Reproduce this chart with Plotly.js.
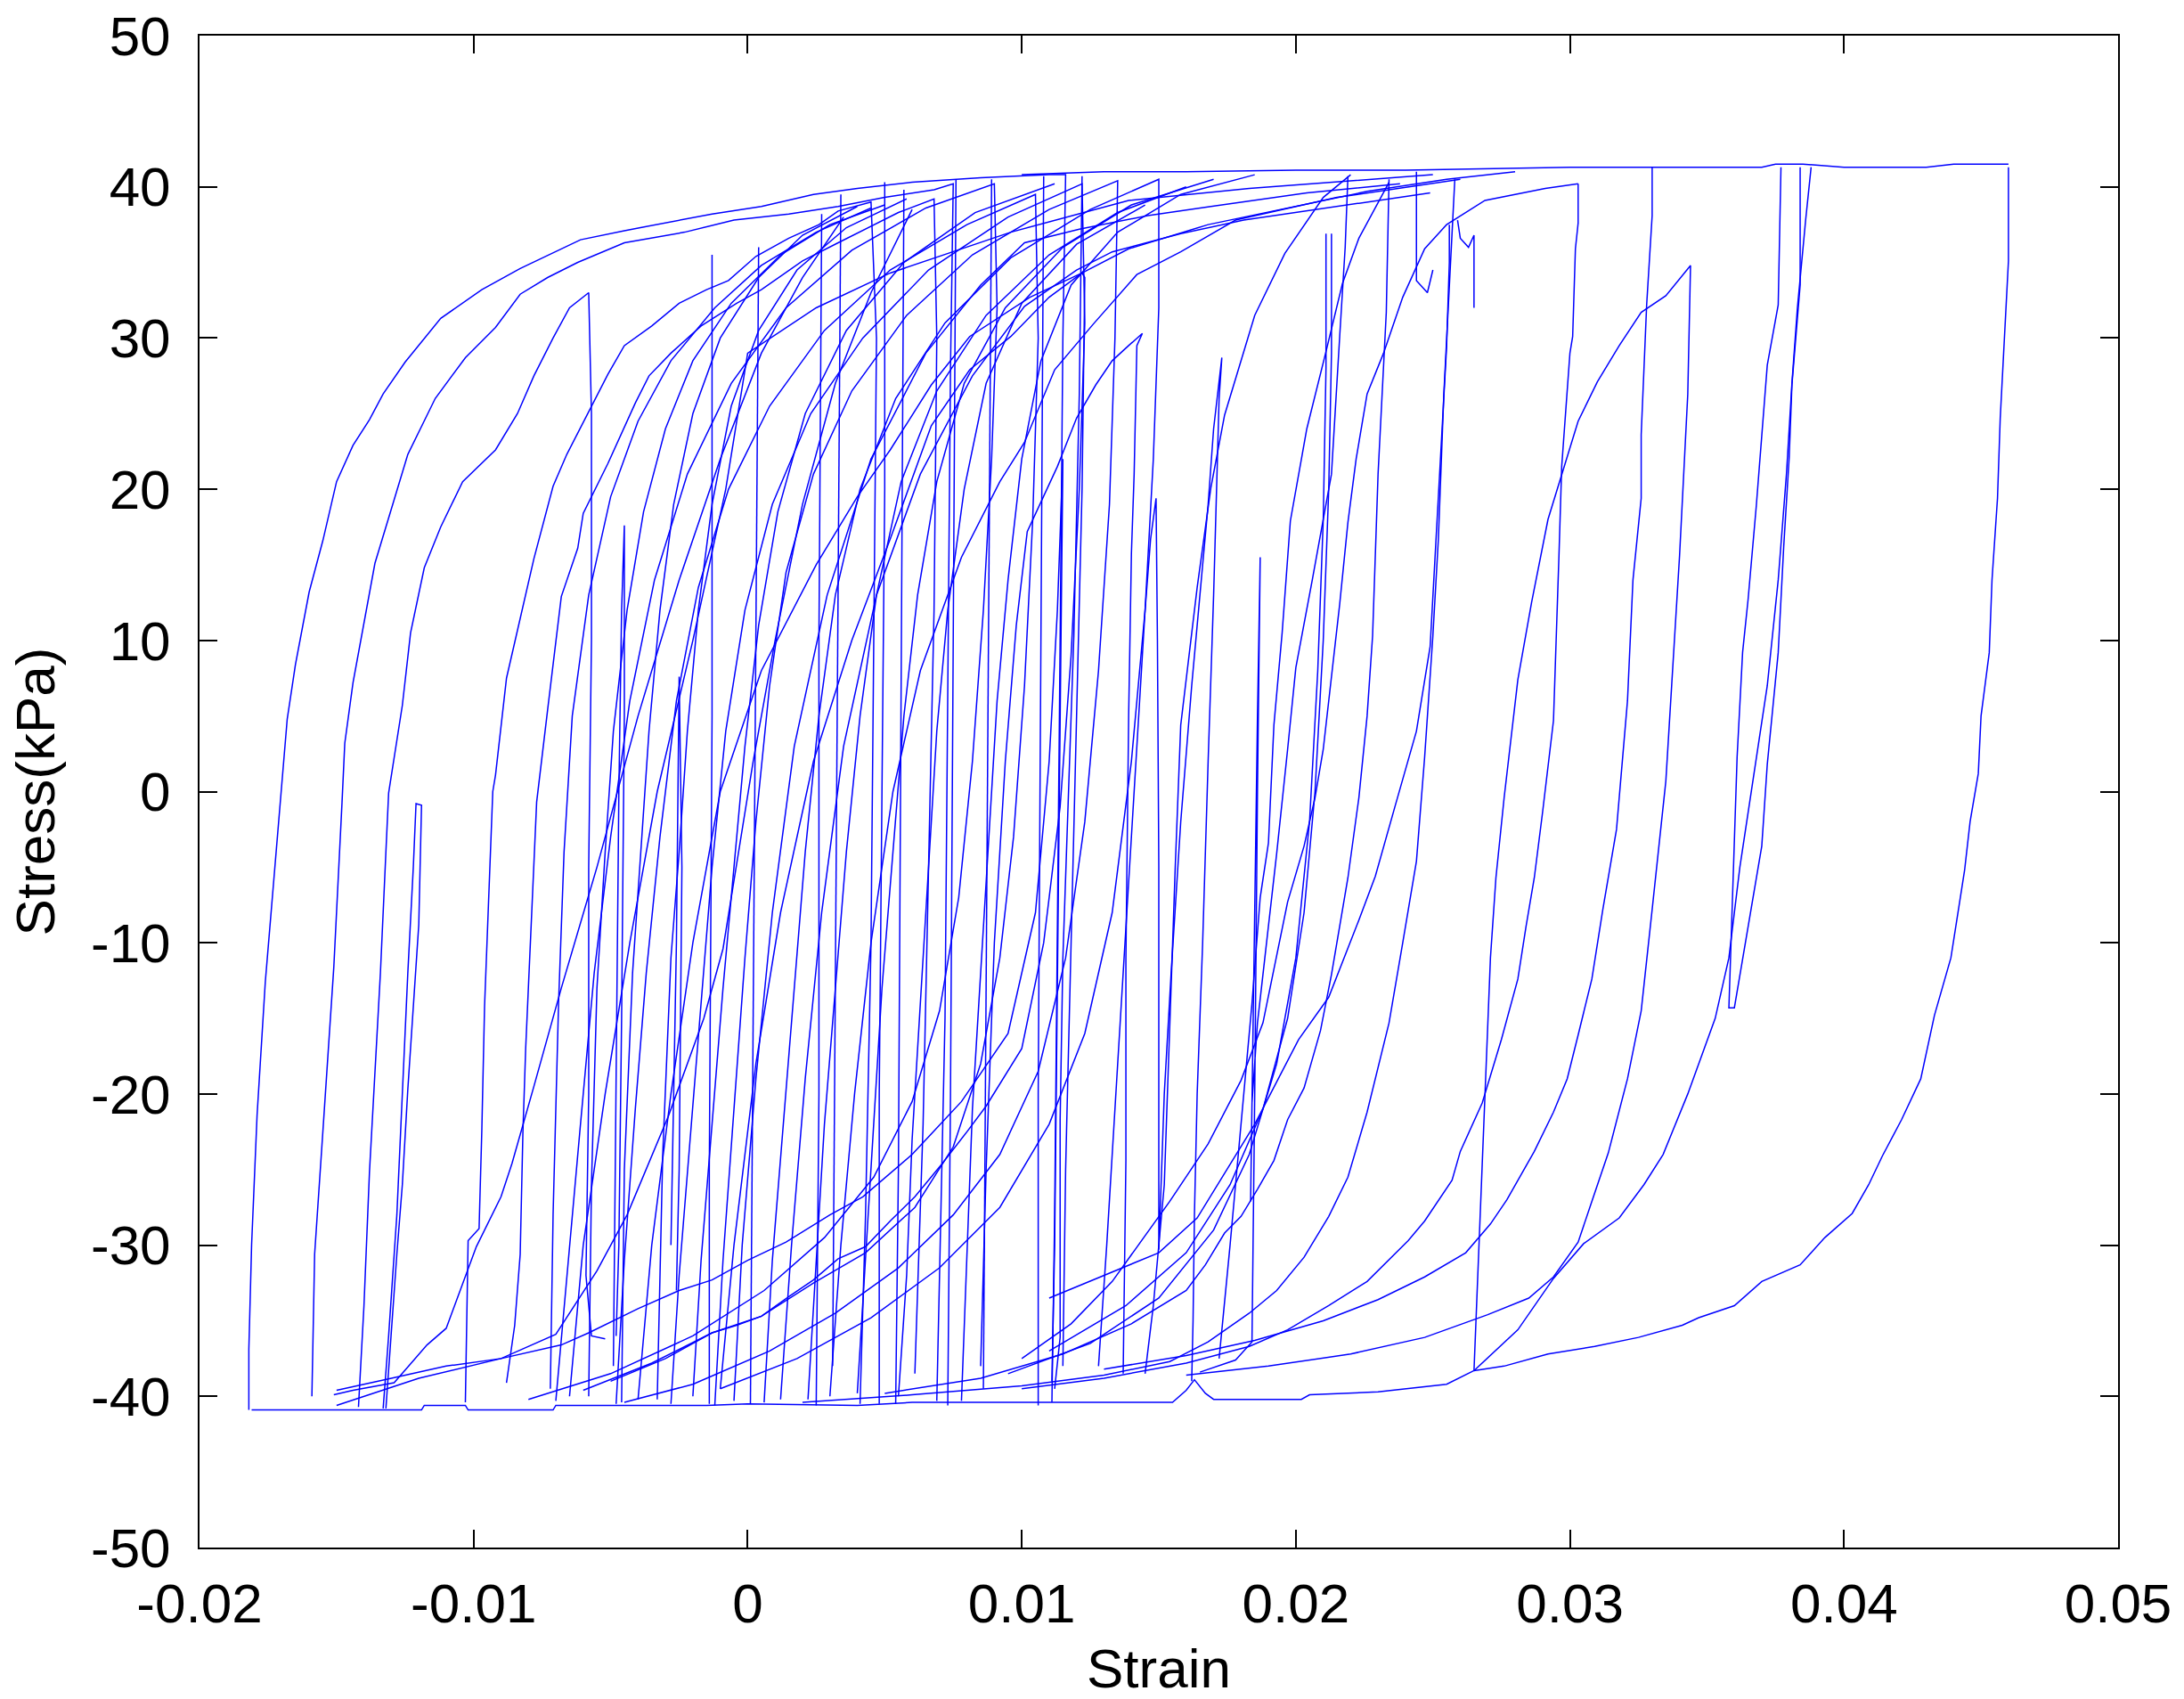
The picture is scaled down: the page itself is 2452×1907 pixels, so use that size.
<!DOCTYPE html>
<html>
<head>
<meta charset="utf-8">
<script src="https://cdn.plot.ly/plotly-3.0.1.min.js"></script>
<style>html,body{margin:0;padding:0;background:#fff;}</style>
</head>
<body>
<div id="chart" style="width:2452px;height:1907px;"></div>
<script>
// strain / stress pairs, one array per visible branch
var loopLeft1 = [[-0.0182,-40.9],[-0.0182,-36.9],[-0.0181,-30.0],[-0.0179,-21.4],[-0.0176,-12.6],[-0.0172,-4.0],[-0.0168,4.8],[-0.0165,8.4],[-0.0160,13.2],[-0.0155,16.6],[-0.0150,20.5],[-0.0144,22.9],[-0.0138,24.6],[-0.0133,26.3],[-0.0125,28.4],[-0.0112,31.3],[-0.0097,33.2],[-0.0083,34.6],[-0.0069,35.8],[-0.0061,36.5],[-0.0045,37.1],[-0.0013,38.2],[0.0005,38.7],[0.0024,39.5],[0.0040,39.9],[0.0060,40.3],[0.0085,40.6],[0.0110,40.8],[0.0116,40.8],[0.0115,30.0],[0.0114,10.0],[0.0113,-10.0],[0.0112,-28.0],[0.0111,-40.4]];
var loopLeft2 = [[-0.0159,-40.0],[-0.0158,-30.6],[-0.0155,-22.5],[-0.0151,-11.6],[-0.0148,-0.7],[-0.0147,3.2],[-0.0144,7.2],[-0.0136,15.1],[-0.0129,19.3],[-0.0124,22.3],[-0.0114,26.0],[-0.0103,28.7],[-0.0092,30.7],[-0.0083,32.9],[-0.0073,34.0],[-0.0062,35.0],[-0.0045,36.3],[-0.0023,37.0],[-0.0005,37.8],[0.0015,38.2],[0.0033,38.7],[0.0050,39.3],[0.0068,39.8],[0.0075,40.2],[0.0074,28.0],[0.0073,5.0],[0.0072,-15.0],[0.0070,-32.0],[0.0069,-40.3]];
var loopLeft3 = [[-0.0142,-40.7],[-0.0140,-34.0],[-0.0138,-25.2],[-0.0134,-12.0],[-0.0132,-4.0],[-0.0131,-0.1],[-0.0126,5.7],[-0.0123,10.5],[-0.0118,14.8],[-0.0112,17.5],[-0.0104,20.5],[-0.0092,22.6],[-0.0084,25.0],[-0.0078,27.5],[-0.0071,30.0],[-0.0065,32.0],[-0.0058,33.0],[-0.0057,25.0],[-0.0057,10.0],[-0.0058,-5.0],[-0.0058,-20.0],[-0.0059,-32.0],[-0.0057,-36.0],[-0.0052,-36.2]];
var loopLeft4 = [[-0.0133,-40.8],[-0.0131,-36.0],[-0.0128,-28.0],[-0.0126,-20.0],[-0.0124,-12.0],[-0.0122,-5.0],[-0.0121,-0.8],[-0.0119,-0.9],[-0.0120,-8.8],[-0.0124,-19.7],[-0.0126,-26.0],[-0.0128,-30.6],[-0.0132,-40.8]];
var loopLeft5 = [[-0.0103,-40.4],[-0.0102,-29.7],[-0.0098,-28.9],[-0.0097,-22.4],[-0.0096,-14.2],[-0.0094,-5.0],[-0.0093,0.0],[-0.0092,1.1],[-0.0088,7.5],[-0.0078,15.4],[-0.0071,20.2],[-0.0066,22.3],[-0.0058,25.1],[-0.0051,27.6],[-0.0045,29.5],[-0.0035,30.8],[-0.0025,32.3],[-0.0015,33.2],[-0.0007,33.8],[0.0003,35.4],[0.0015,36.6],[0.0026,37.5],[0.0033,38.4],[0.0045,39.0],[0.0047,30.0],[0.0046,10.0],[0.0045,-10.0],[0.0043,-28.0],[0.0041,-40.5]];
var loopLeft6 = [[-0.0088,-39.1],[-0.0085,-35.3],[-0.0083,-30.6],[-0.0082,-22.5],[-0.0081,-17.0],[-0.0079,-8.8],[-0.0077,-0.7],[-0.0073,5.4],[-0.0068,12.9],[-0.0062,16.1],[-0.0060,18.4],[-0.0051,21.7],[-0.0041,25.7],[-0.0036,27.5],[-0.0028,29.0],[-0.0017,30.8],[-0.0004,32.3],[0.0005,33.2],[0.0020,35.1],[0.0033,36.3],[0.0043,37.2],[0.0055,38.3],[0.0068,39.2],[0.0069,30.0],[0.0068,12.0],[0.0066,-5.0],[0.0064,-22.0],[0.0061,-38.5]];
var kneeLow1 = [[0.0060,38.5],[0.0045,33.0],[0.0032,27.0],[0.0020,19.0],[0.0010,10.0],[0.0002,2.0],[-0.0009,-10.4],[-0.0016,-15.0],[-0.0029,-21.5],[-0.0044,-28.0],[-0.0055,-31.7],[-0.0070,-35.9],[-0.0090,-37.5],[-0.0110,-38.0],[-0.0130,-38.8],[-0.0150,-39.6]];
var kneeLow2 = [[0.0035,38.0],[0.0020,34.0],[0.0005,29.0],[-0.0010,22.0],[-0.0025,14.0],[-0.0040,5.0],[-0.0055,-5.0],[-0.0068,-13.0],[-0.0078,-19.5],[-0.0086,-24.6],[-0.0090,-26.8],[-0.0099,-30.1],[-0.0110,-35.5],[-0.0117,-36.6],[-0.0129,-39.1],[-0.0144,-39.6],[-0.0151,-39.9]];
var kneeLow3 = [[-0.0150,-40.6],[-0.0120,-38.8],[-0.0090,-37.5],[-0.0068,-36.6],[-0.0058,-35.8],[-0.0040,-34.2],[-0.0025,-33.0],[-0.0013,-32.3],[0.0000,-31.0],[0.0014,-29.8],[0.0030,-28.0],[0.0042,-26.8],[0.0060,-24.0],[0.0078,-20.5],[0.0095,-16.0],[0.0105,-8.0],[0.0110,2.0],[0.0113,12.0],[0.0115,22.0],[0.0114,5.0],[0.0113,-15.0],[0.0112,-30.0],[0.0111,-39.0]];
var midN1 = [[-0.0072,-39.5],[-0.0071,-28.0],[-0.0069,-14.0],[-0.0067,-4.0],[-0.0064,5.0],[-0.0058,13.0],[-0.0050,19.5],[-0.0040,24.5],[-0.0028,28.5],[-0.0012,32.0],[0.0005,34.8],[0.0025,37.0],[0.0045,38.6]];
var midN2 = [[-0.0058,-40.0],[-0.0057,-26.0],[-0.0055,-13.0],[-0.0052,-4.0],[-0.0049,4.0],[-0.0044,12.0],[-0.0038,18.5],[-0.0030,24.0],[-0.0020,28.5],[-0.0006,32.3],[0.0012,35.5],[0.0030,37.5],[0.0050,38.8]];
var midN3 = [[-0.0046,-40.4],[-0.0045,-25.0],[-0.0042,-12.0],[-0.0039,-4.0],[-0.0036,4.0],[-0.0032,12.0],[-0.0027,19.0],[-0.0020,25.0],[-0.0010,30.0],[0.0004,34.0],[0.0020,36.8],[0.0040,38.7]];
var midN4 = [[-0.0033,-40.2],[-0.0031,-24.0],[-0.0028,-11.0],[-0.0025,-4.0],[-0.0022,4.0],[-0.0018,12.0],[-0.0013,19.0],[-0.0006,25.5],[0.0004,30.5],[0.0018,34.5],[0.0036,37.3],[0.0058,39.2]];
var spikeA = [[-0.0049,-38.0],[-0.0048,-20.0],[-0.0047,0.0],[-0.0046,12.0],[-0.0045,17.6],[-0.0045,5.0],[-0.0046,-15.0],[-0.0047,-30.0],[-0.0048,-36.0]];
var spikeB = [[-0.0028,-30.0],[-0.0026,-10.0],[-0.0025,7.6],[-0.0024,-5.0],[-0.0025,-25.0],[-0.0026,-33.0]];
var coreM1 = [[-0.0070,-40.3],[-0.0066,-32],[-0.0061,-22],[-0.0056,-12],[-0.0050,-3],[-0.0043,6],[-0.0034,14],[-0.0022,21],[-0.0006,27],[0.0014,32],[0.0038,35.8],[0.0065,38.6],[0.0090,40.2],[0.0091,32],[0.0089,22],[0.0086,12],[0.0082,2],[0.0077,-7],[0.0070,-14.5],[0.0060,-20.5],[0.0046,-25.5],[0.0028,-29.5],[0.0006,-33],[-0.0020,-36],[-0.0050,-38.5],[-0.0080,-40.2]];
var coreM2 = [[-0.0048,-40.5],[-0.0045,-31],[-0.0041,-21],[-0.0037,-12],[-0.0032,-3],[-0.0026,6],[-0.0018,13.5],[-0.0007,20],[0.0008,25.5],[0.0028,30.5],[0.0052,34.5],[0.0080,37.5],[0.0105,39.5],[0.0106,30],[0.0104,18],[0.0101,7],[0.0097,-3],[0.0092,-11],[0.0085,-18],[0.0075,-23.5],[0.0061,-27.5],[0.0043,-30.5],[0.0024,-32.5],[0.0005,-34.7],[-0.0013,-35.8],[-0.0035,-37.8],[-0.0060,-39.6]];
var coreM3 = [[-0.0028,-40.5],[-0.0025,-32],[-0.0021,-23],[-0.0017,-14],[-0.0013,-5],[-0.0008,4],[-0.0001,12],[0.0009,19],[0.0023,25],[0.0042,30],[0.0066,34.5],[0.0095,38],[0.0122,40.2],[0.0123,31],[0.0121,20],[0.0118,9],[0.0114,-1],[0.0108,-10],[0.0100,-17],[0.0087,-20.8],[0.0080,-22.5],[0.0071,-24.6],[0.0061,-26.8],[0.0052,-28.4],[0.0043,-30.1],[0.0033,-30.9],[0.0024,-32.3],[0.0015,-33.4],[0.0005,-34.7],[-0.0004,-35.3],[-0.0013,-35.8],[-0.0030,-37.5],[-0.0050,-39.0]];
var coreM4 = [[-0.0012,-40.6],[-0.0009,-31],[-0.0005,-21],[-0.0001,-11],[0.0003,-2],[0.0008,7],[0.0014,14.5],[0.0024,21],[0.0038,26.5],[0.0058,31.5],[0.0082,35.5],[0.0110,38.5],[0.0135,40.4],[0.0134,30],[0.0132,19],[0.0128,8],[0.0123,-2],[0.0116,-11],[0.0106,-18.5],[0.0092,-24],[0.0075,-28],[0.0055,-31.5],[0.0032,-34.5],[0.0008,-37],[-0.0020,-39.2],[-0.0045,-40.4]];
var coreM5 = [[0.0006,-40.4],[0.0009,-31],[0.0013,-22],[0.0017,-13],[0.0021,-4],[0.0026,5],[0.0032,13],[0.0041,20],[0.0054,26],[0.0072,31],[0.0096,35.3],[0.0125,38.5],[0.0150,40.5],[0.0150,32],[0.0148,22],[0.0145,12],[0.0140,2],[0.0133,-8],[0.0123,-16],[0.0110,-22],[0.0092,-27.5],[0.0070,-31.5],[0.0045,-34.8],[0.0018,-37.5],[-0.0010,-39.5]];
var coreM6 = [[0.0022,-40.2],[0.0025,-31],[0.0028,-22],[0.0032,-13],[0.0036,-4],[0.0041,5],[0.0047,13],[0.0056,20.5],[0.0069,26.5],[0.0087,31.5],[0.0110,35.5],[0.0135,38.3],[0.0160,40.0]];
var coreM7 = [[0.0040,-39.8],[0.0043,-31],[0.0046,-22],[0.0049,-13],[0.0053,-4],[0.0057,5],[0.0062,13],[0.0069,20.5],[0.0079,27],[0.0094,32],[0.0115,36],[0.0140,38.8],[0.0170,40.5]];
var coreM8 = [[0.0055,-40.0],[0.0058,-32],[0.0060,-23],[0.0063,-14],[0.0066,-5],[0.0069,4],[0.0073,12],[0.0079,20],[0.0087,27],[0.0100,32.3],[0.0120,36.2],[0.0145,38.8]];
var coreM9 = [[0.0078,-40.3],[0.0080,-31],[0.0082,-21],[0.0085,-12],[0.0088,-3],[0.0091,6],[0.0095,14],[0.0100,22],[0.0107,28.5],[0.0118,33.5],[0.0135,37],[0.0158,39.5],[0.0185,40.8]];
var coreM10 = [[-0.0020,-40.0],[-0.0017,-31],[-0.0013,-22],[-0.0009,-13],[-0.0005,-5],[-0.0001,3],[0.0004,11],[0.0011,18.5],[0.0021,25],[0.0036,30.5],[0.0057,35],[0.0083,38.3],[0.0112,40.2]];
var upperT1 = [[-0.0010,-39.5],[-0.0005,-30],[0.0003,-18],[0.0012,-8],[0.0024,2],[0.0038,10],[0.0052,16.7],[0.0067,24.2],[0.0081,27.9],[0.0096,30.1],[0.0110,32.7],[0.0122,34.3],[0.0123,34.0],[0.0122,20],[0.0120,5],[0.0118,-10],[0.0116,-25],[0.0115,-38]];
var upperT2 = [[-0.0040,-40.2],[-0.0035,-30],[-0.0028,-20],[-0.0020,-10],[-0.0010,0],[0.0005,8],[0.0025,15],[0.0040,19.5],[0.0052,22.6],[0.0067,26.9],[0.0081,30.1],[0.0103,32.7],[0.0122,34.3],[0.0139,35.9],[0.0168,37.5],[0.0197,38.6],[0.0226,39.7],[0.0255,40.5],[0.0280,41.0]];
var upperT3 = [[-0.0065,-40],[-0.0060,-30],[-0.0052,-20],[-0.0043,-10],[-0.0033,0],[-0.0020,10],[-0.0008,20],[0.0000,29],[0.0025,32],[0.0052,34.3],[0.0096,37.0],[0.0139,39.1],[0.0183,39.9],[0.0226,40.5],[0.0250,40.8]];
var flatA = [[0.0030,-40.0],[0.0034,-30],[0.0039,-20],[0.0045,-10],[0.0053,0],[0.0063,8],[0.0078,15.5],[0.0092,20.5],[0.0101,23.1],[0.0112,27.9],[0.0126,30.9],[0.0142,34.2],[0.0158,35.7],[0.0178,37.8],[0.0215,39.3],[0.0260,40.5]];
var flatB = [[0.0012,-40.2],[0.0016,-30],[0.0021,-19],[0.0027,-8],[0.0035,3],[0.0047,13],[0.0063,21],[0.0082,27.5],[0.0101,32.1],[0.0120,34.5],[0.0133,35.7],[0.0158,36.9],[0.0181,37.8],[0.0215,38.7],[0.0249,39.6]];
var flatC = [[-0.0005,-40.3],[-0.0002,-30],[0.0003,-19],[0.0009,-8],[0.0017,3],[0.0029,13],[0.0045,22],[0.0065,29],[0.0085,33.5],[0.0101,36.3],[0.0121,37.2],[0.0146,38.1],[0.0169,38.7],[0.0204,39.6],[0.0238,40.2]];
var drop1 = [[0.0050,40.3],[0.0050,20],[0.0049,0],[0.0048,-20],[0.0048,-40.5]];
var drop2 = [[0.0027,38.2],[0.0026,10],[0.0026,-20],[0.0025,-40.6]];
var drop3 = [[0.0076,40.5],[0.0075,10],[0.0074,-20],[0.0073,-40.6]];
var drop4 = [[0.0108,40.7],[0.0107,10],[0.0106,-20],[0.0106,-40.6]];
var drop5 = [[0.0004,36.0],[0.0003,10],[0.0002,-15],[0.0001,-40.5]];
var drop6 = [[0.0034,39.5],[0.0033,15],[0.0032,-10],[0.0031,-38]];
var drop7 = [[0.0057,39.8],[0.0056,10],[0.0055,-25],[0.0054,-40.5]];
var drop8 = [[0.0089,40.5],[0.0088,15],[0.0087,-15],[0.0086,-39.5]];
var drop9 = [[-0.0013,35.5],[-0.0013,5],[-0.0014,-25],[-0.0014,-40.5]];
var drop10 = [[0.0122,40.7],[0.0121,26.3],[0.0119,10.3],[0.0117,-0.4],[0.0115,-11.0],[0.0114,-21.7],[0.0114,-36.1],[0.0112,-39.5]];
var spike30 = [[0.0085,-38],[0.0087,-25],[0.0090,-10],[0.0094,2],[0.0098,11],[0.0102,17.2],[0.0113,21.5],[0.0120,24.7],[0.0127,26.9],[0.0133,28.5],[0.0139,29.5],[0.0144,30.3],[0.0142,29.5],[0.0141,21.0],[0.0140,15.7],[0.0139,5.0],[0.0138,-11.0],[0.0138,-24.4],[0.0137,-38.5]];
var spike19 = [[0.0128,-38.0],[0.0131,-30.0],[0.0136,-15.0],[0.0141,0.0],[0.0145,12.0],[0.0147,16.7],[0.0149,19.4],[0.01495,10.0],[0.0150,-5.0],[0.0150,-20.0],[0.0150,-30.3],[0.0152,-20.0],[0.01545,-12.0],[0.0158,-2.0],[0.0162,7.0],[0.0165,13.0],[0.0168,19.0],[0.0170,24.0],[0.0173,28.7],[0.0172,26.0],[0.0170,13.0],[0.0168,2.0],[0.0166,-10.0],[0.0164,-20.0],[0.0163,-28.0],[0.01625,-35.0],[0.0162,-39.0]];
var spike15 = [[0.0219,40.7],[0.0218,36.0],[0.0216,30.1],[0.0213,21.0],[0.0206,14.0],[0.0200,8.2],[0.0197,2.8],[0.0193,-4.1],[0.0189,-10.5],[0.0186,-15.3],[0.0184,-20.6],[0.01835,-27.1],[0.0185,-5.0],[0.0186,5.0],[0.0187,15.5],[0.0186,0.0],[0.0185,-20.0],[0.0184,-36.4],[0.0178,-37.6],[0.0165,-38.4]];
var riseV1 = [[0.0145,-38.5],[0.0148,-34],[0.0152,-26],[0.0154,-15],[0.0156,-5],[0.0158,4.4],[0.0164,13.5],[0.0169,20.1],[0.0174,24.9],[0.0185,31.5],[0.0196,35.6],[0.0210,39.3],[0.0220,40.8]];
var riseV2 = [[0.0172,-37.5],[0.0176,-30],[0.0180,-22],[0.0184,-14],[0.0187,-7],[0.0190,-3.4],[0.0192,4.4],[0.0195,10.5],[0.0198,17.9],[0.0204,24.0],[0.0211,29.1],[0.0217,33.6],[0.0223,36.6],[0.0234,40.3]];
var fallW1 = [[0.0211,36.9],[0.0211,28],[0.0210,18],[0.0208,8],[0.0205,-2],[0.0200,-11],[0.0193,-18],[0.0183,-24],[0.0170,-29],[0.0150,-33.5],[0.0125,-36.5],[0.0095,-38.5]];
var fallW2 = [[0.0213,36.9],[0.0213,29],[0.0212,20],[0.0210,10],[0.0207,0],[0.0203,-8],[0.0197,-15],[0.0188,-21],[0.0176,-26],[0.0160,-30.5],[0.0138,-34],[0.0110,-37]];
var riseU1 = [[0.0100,-37.5],[0.0118,-35.2],[0.0133,-32.4],[0.0154,-27.1],[0.0168,-23.3],[0.0180,-19.1],[0.0188,-15.3],[0.0191,-12.7],[0.0197,-7.3],[0.0203,-3.6],[0.0207,-0.4],[0.0210,2.8],[0.0213,7.6],[0.0216,12.4],[0.0219,17.8],[0.0222,22.0],[0.0226,26.3],[0.0232,29.0],[0.0239,32.7],[0.0247,35.9],[0.0255,37.5],[0.0269,39.1],[0.0291,39.9],[0.0303,40.2]];
var riseU3 = [[0.0110,-33.5],[0.0130,-32.0],[0.0150,-30.5],[0.0164,-28.2],[0.0185,-22.0],[0.0201,-16.4],[0.0212,-13.6],[0.0223,-8.5],[0.0229,-5.6],[0.0236,-1.1],[0.0244,4.0],[0.0249,9.6],[0.0252,19.2],[0.0255,29.4],[0.0256,35.0],[0.0256,37.5]];
var fallD1 = [[0.0258,40.5],[0.02565,34.9],[0.0254,26.3],[0.0252,16.7],[0.0250,10.3],[0.0247,2.3],[0.0244,-4.6],[0.0239,-10.0],[0.0234,-15.3],[0.0226,-21.2],[0.0219,-25.5],[0.0212,-28.1],[0.0203,-30.8],[0.0193,-33.0],[0.0183,-34.5],[0.0168,-36.4],[0.0154,-37.7],[0.0130,-38.6],[0.0100,-39.3],[0.0060,-39.9],[0.0020,-40.4]];
var fallD2 = [[0.0234,40.5],[0.0233,31.7],[0.0230,21.0],[0.0228,10.3],[0.0226,5.0],[0.0223,-0.4],[0.0219,-5.7],[0.0213,-12.1],[0.0209,-15.8],[0.0203,-19.6],[0.0197,-21.7],[0.0192,-24.4],[0.0186,-26.3],[0.0180,-28.1],[0.0174,-29.2],[0.0167,-31.3],[0.0160,-33.0],[0.0140,-35.2],[0.0115,-37.2],[0.0085,-38.8],[0.0050,-39.8]];
var hook244 = [[0.0244,41.0],[0.0244,33.8],[0.0248,33.0],[0.0250,34.5]];
var hook260 = [[0.0259,37.8],[0.0260,36.6],[0.0263,36.0],[0.0265,36.8],[0.0265,32.0]];
var rightR1 = [[0.0460,41.3],[0.0460,35.1],[0.0457,24.7],[0.0456,19.4],[0.0454,14.0],[0.0453,9.2],[0.0450,5.0],[0.0449,1.2],[0.0446,-2.0],[0.0444,-5.2],[0.0439,-11.0],[0.0433,-14.8],[0.0428,-19.0],[0.0421,-21.7],[0.0414,-24.1],[0.0409,-26.0],[0.0403,-27.9],[0.0393,-29.5],[0.0384,-31.3],[0.0370,-32.4],[0.0360,-34.0],[0.0347,-34.8],[0.0341,-35.3],[0.0325,-36.1],[0.0309,-36.7],[0.0292,-37.2],[0.0276,-38.0],[0.0265,-38.3]];
var rightP = [[0.0265,-38.3],[0.0269,-20.6],[0.0271,-11.0],[0.0273,-5.7],[0.0276,-0.4],[0.0281,7.4],[0.0286,12.5],[0.0292,18.0],[0.0303,24.5],[0.0310,27.1],[0.0318,29.5],[0.0326,31.7],[0.0335,32.8],[0.0344,34.8],[0.0343,26.3],[0.0340,15.6],[0.0335,0.7],[0.0330,-7.8],[0.0326,-14.5],[0.0321,-19.0],[0.0314,-23.9],[0.0308,-27.1],[0.0303,-29.8],[0.0294,-32.1],[0.0285,-33.5],[0.0270,-34.6],[0.0247,-36.1],[0.0220,-37.2],[0.0190,-38.0],[0.0160,-38.6]];
var rightC = [[0.0265,-38.3],[0.0281,-35.6],[0.0294,-32.2],[0.0305,-29.9],[0.0318,-28.2],[0.0327,-26.0],[0.0334,-24.0],[0.0343,-20.0],[0.0353,-15.0],[0.0358,-11.0],[0.0362,-5.0],[0.0367,1.0],[0.0372,7.0],[0.0376,14.0],[0.0379,21.0],[0.0381,27.0],[0.0383,32.0],[0.0386,37.8],[0.0388,41.3]];
var rightS = [[0.0377,41.3],[0.0376,32.2],[0.0372,28.2],[0.0368,18.9],[0.0365,12.7],[0.0363,9.2],[0.0361,2.3],[0.0358,-14.3],[0.0360,-14.3],[0.0366,-7.8],[0.0370,-3.6],[0.0372,1.8],[0.0376,9.2],[0.0378,16.2],[0.0380,22.1],[0.0381,26.9],[0.0384,33.5],[0.0384,41.3]];
var rightR2 = [[0.0330,41.3],[0.0330,38.1],[0.0328,32.2],[0.0326,23.6],[0.0326,19.4],[0.0323,14.0],[0.0321,6.0],[0.0317,-2.5],[0.0312,-7.8],[0.0308,-12.4],[0.0303,-16.1],[0.0299,-19.0],[0.0294,-21.2],[0.0287,-23.8],[0.0277,-27.0],[0.0271,-28.6],[0.0262,-30.5],[0.0247,-32.1],[0.0230,-33.6],[0.0210,-35.0],[0.0185,-36.3],[0.0160,-37.3],[0.0130,-38.2]];
var rightR3 = [[0.0303,40.2],[0.0303,37.6],[0.0302,35.9],[0.0301,30.1],[0.0300,29.0],[0.0297,21.5],[0.0296,15.6],[0.0294,4.7],[0.0290,-1.4],[0.0287,-5.7],[0.0284,-8.9],[0.0281,-12.4],[0.0275,-16.4],[0.0268,-20.6],[0.0260,-23.8],[0.0257,-25.7],[0.0247,-28.4],[0.0241,-29.7],[0.0226,-32.4],[0.0212,-34.0],[0.0197,-35.6],[0.0183,-36.7],[0.0160,-37.8],[0.0130,-38.8],[0.0100,-39.5]];
var floorLine = [[-0.0181,-40.9],[-0.0119,-40.9],[-0.0118,-40.6],[-0.0103,-40.6],[-0.0102,-40.9],[-0.0071,-40.9],[-0.0070,-40.6],[-0.0015,-40.6],[0.0000,-40.5],[0.0040,-40.6],[0.0060,-40.4],[0.0100,-40.4],[0.0155,-40.4],[0.0160,-39.6],[0.0163,-38.9],[0.0167,-39.8],[0.0170,-40.2],[0.0202,-40.2],[0.0205,-39.9],[0.0230,-39.7],[0.0255,-39.2],[0.0265,-38.3]];
var ceilingLine = [[0.0100,40.8],[0.0130,41.0],[0.0160,41.0],[0.0200,41.1],[0.0240,41.1],[0.0270,41.2],[0.0300,41.3],[0.0330,41.3],[0.0370,41.3],[0.0375,41.5],[0.0385,41.5],[0.0400,41.3],[0.0408,41.3],[0.0430,41.3],[0.0440,41.5],[0.0460,41.5]];

var curves = [loopLeft1, loopLeft2, loopLeft3, loopLeft4, loopLeft5, loopLeft6,
  kneeLow1, kneeLow2, kneeLow3, midN1, midN2, midN3, midN4, spikeA, spikeB,
  coreM1, coreM2, coreM3, coreM4, coreM5, coreM6, coreM7, coreM8, coreM9, coreM10,
  upperT1, upperT2, upperT3, flatA, flatB, flatC,
  drop1, drop2, drop3, drop4, drop5, drop6, drop7, drop8, drop9, drop10,
  spike30, spike19, spike15, riseV1, riseV2, fallW1, fallW2, riseU1, riseU3, fallD1, fallD2, hook244, hook260,
  rightR1, rightP, rightC, rightS, rightR2, rightR3, floorLine, ceilingLine];

var xTickVals = [-0.02, -0.01, 0, 0.01, 0.02, 0.03, 0.04, 0.05];
var xTickText = ['-0.02', '-0.01', '0', '0.01', '0.02', '0.03', '0.04', '0.05'];
var yTickVals = [-50, -40, -30, -20, -10, 0, 10, 20, 30, 40, 50];
var yTickText = ['-50', '-40', '-30', '-20', '-10', '0', '10', '20', '30', '40', '50'];

var data = curves.map(function (c) {
  return {
    x: c.map(function (p) { return p[0]; }),
    y: c.map(function (p) { return p[1]; }),
    mode: 'lines',
    line: {color: 'rgb(0, 0, 255)', width: 1.5},
    showlegend: false,
    hoverinfo: 'skip'
  };
});

var axisStyle = {
  showline: true, linecolor: 'black', linewidth: 2, mirror: 'ticks',
  ticks: 'inside', ticklen: 20, tickwidth: 2, tickcolor: 'black',
  showgrid: false, zeroline: false, automargin: false
};

var layout = {
  width: 2452, height: 1907,
  margin: {l: 224, r: 74, t: 40, b: 170},
  paper_bgcolor: 'white', plot_bgcolor: 'white',
  font: {family: 'Liberation Sans, Arial, sans-serif', size: 62, color: 'black'},
  xaxis: Object.assign({}, axisStyle, {
    range: [-0.02, 0.05], tickmode: 'array', tickvals: xTickVals, ticktext: xTickText,
    ticklabelstandoff: 8,
    title: {text: 'Strain', standoff: 20, font: {size: 62}}
  }),
  yaxis: Object.assign({}, axisStyle, {
    range: [-50, 50], tickmode: 'array', tickvals: yTickVals, ticktext: yTickText,
    ticklabelstandoff: 18,
    title: {text: 'Stress(kPa)', standoff: 20, font: {size: 62}}
  })
};

Plotly.newPlot('chart', data, layout, {displayModeBar: false, staticPlot: true});
</script>
</body>
</html>
